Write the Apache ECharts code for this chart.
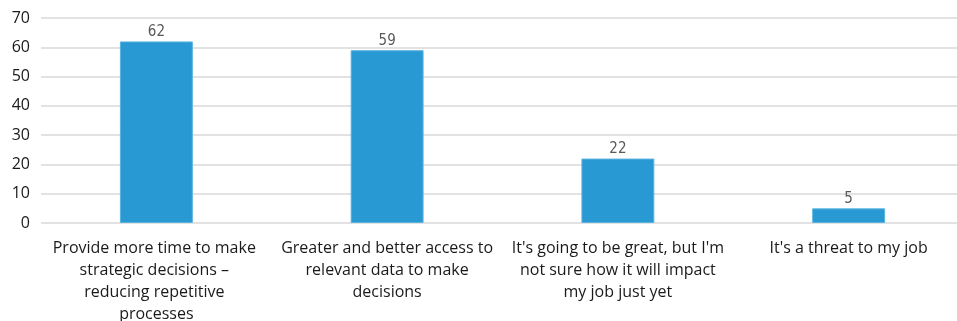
<!DOCTYPE html>
<html>
<head>
<meta charset="utf-8">
<script src="https://cdn.jsdelivr.net/npm/echarts@6/dist/echarts.min.js"></script>
<style>
  html, body { margin: 0; padding: 0; background: #fff; }
  #chart { width: 957px; height: 321px; }
</style>
</head>
<body>
<div id="chart"></div>
<script>
// categories and values
const categories = [
  'Provide more time to make strategic decisions – reducing repetitive processes',
  'Greater and better access to relevant data to make decisions',
  "It's going to be great, but I'm not sure how it will impact my job just yet",
  "It's a threat to my job"
]
const values = [62, 59, 22, 5]
const yTicks = [0, 10, 20, 30, 40, 50, 60, 70]

const chart = echarts.init(document.getElementById('chart'))

const option = {
  animation: false,
  grid: { left: 41, right: -7, top: 18, bottom: 98, containLabel: false, outerBoundsMode: 'none' },
  xAxis: {
    type: 'category',
    data: categories,
    axisLine: { show: false },
    axisTick: { show: false },
    axisLabel: {
      color: '#1a1a1a',
      fontSize: 16,
      fontFamily: 'Open Sans',
      margin: 14,
      lineHeight: 22,
      width: 215,
      overflow: 'break',
      interval: 0
    }
  },
  yAxis: {
    type: 'value',
    min: yTicks[0],
    max: yTicks[yTicks.length - 1],
    interval: 10,
    axisLine: { show: false },
    axisTick: { show: false },
    axisLabel: { color: '#1a1a1a', fontSize: 16, fontFamily: 'Open Sans', margin: 11 },
    splitLine: { lineStyle: { color: '#d9d9d9', width: 1.5 } }
  },
  series: [
    {
      type: 'bar',
      data: values,
      barWidth: '31.6%',
      itemStyle: { color: '#2899d3', borderColor: '#5bb3e0', borderWidth: 1 },
      label: {
        show: true,
        position: 'top',
        distance: 2,
        color: '#595959',
        fontSize: 15,
        fontFamily: 'DejaVu Sans Condensed, sans-serif'
      }
    }
  ]
}

chart.setOption(option)
</script>
</body>
</html>
